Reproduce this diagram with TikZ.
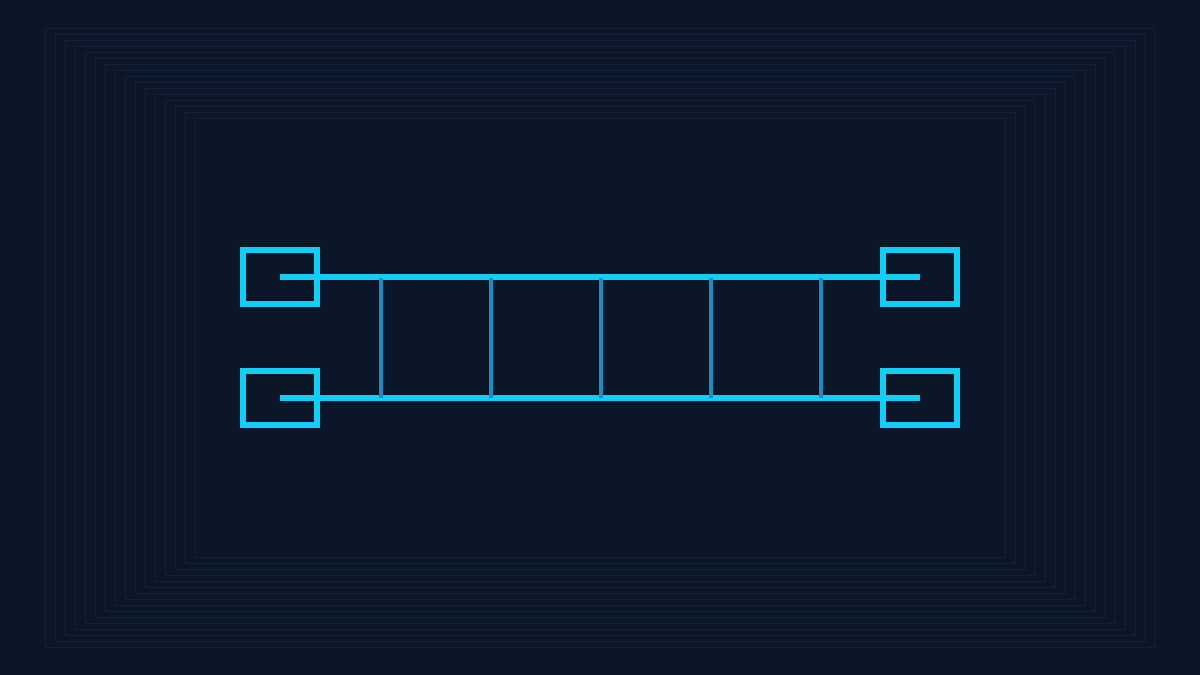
\documentclass[tikz,border=0pt]{standalone}
\usetikzlibrary{positioning}
\definecolor{bgnavy}{HTML}{0B1628}
\definecolor{frameline}{HTML}{13203A}
\definecolor{cyanline}{HTML}{12CDF5}
\definecolor{rungblue}{HTML}{1E8CC0}
\tikzstyle{portbox} = [rectangle, draw=cyanline, line width=6*0.02cm, minimum width=74*0.02cm, minimum height=54*0.02cm, inner sep=0pt]
\tikzstyle{rail} = [cyanline, line width=6*0.02cm]
\tikzstyle{rung} = [rungblue, line width=3.5*0.02cm]

\begin{document}
\begin{tikzpicture}[x=0.02cm, y=-0.02cm]
    % Background
    \fill[bgnavy] (0,0) rectangle (1200,675);
    \useasboundingbox (0,0) rectangle (1200,675);
    \foreach \i in {0,...,15} {
        \draw[frameline, line width=0.3pt] (195-10*\i,118-6*\i) rectangle (1005+10*\i,557+6*\i);
    }

    % Port boxes
    \node[portbox] (lt) at (280,277) {};
    \node[portbox] (lb) at (280,398) {};
    \node[portbox] (rt) at (920,277) {};
    \node[portbox] (rb) at (920,398) {};

    % Rails
    \draw[rail] (lt.center) -- (rt.center);
    \draw[rail] (lb.center) -- (rb.center);

    % Rungs
    \foreach \x in {381,491,601,711,821} {
        \coordinate (top\x) at (\x,278);
        \coordinate (bot\x) at (\x,398);
        \draw[rung] (top\x) -- (bot\x);
    }
\end{tikzpicture}
\end{document}
